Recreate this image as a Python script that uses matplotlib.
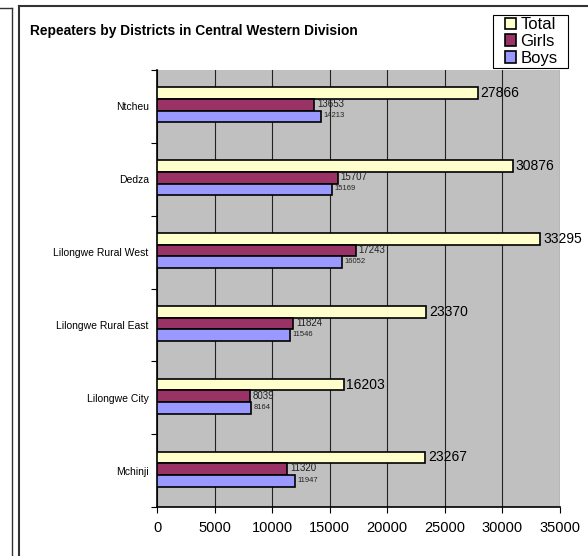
#!/usr/bin/env python3

import numpy as np
import matplotlib.pyplot as plt
from matplotlib.lines import Line2D
from matplotlib.patches import Rectangle

plt.rcParams['font.family'] = ['Liberation Sans', 'DejaVu Sans']

districts = ['Mchinji', 'Lilongwe City', 'Lilongwe Rural East',
             'Lilongwe Rural West', 'Dedza', 'Ntcheu']
total = [23267, 16203, 23370, 33295, 30876, 27866]
girls = [11320, 8039, 11824, 17243, 15707, 13653]
boys = [11947, 8164, 11546, 16052, 15169, 14213]
xticks = [0, 5000, 10000, 15000, 20000, 25000, 30000, 35000]

c_total = '#FFFFCC'
c_girls = '#993366'
c_boys = '#9999FF'

fig = plt.figure(figsize=(5.88, 5.56), dpi=100)
ax = fig.add_axes([157 / 588, 1 - 507 / 556, 403 / 588, 437 / 556])
ax.set_facecolor('#C0C0C0')

y = np.arange(len(districts))
h = 0.16
ax.barh(y + h + 0.02, total, height=h, color=c_total, edgecolor='black', linewidth=1.2, label='Total', zorder=3)
ax.barh(y + 0.02, girls, height=h, color=c_girls, edgecolor='black', linewidth=1.2, label='Girls', zorder=3)
ax.barh(y - h + 0.02, boys, height=h, color=c_boys, edgecolor='black', linewidth=1.2, label='Boys', zorder=3)

for i in range(len(districts)):
	ax.text(total[i] + 250, y[i] + h + 0.02, str(total[i]), fontsize=10, va='center', ha='left', zorder=4)
	ax.text(girls[i] + 250, y[i] + 0.03, str(girls[i]), fontsize=7, va='center', ha='left', zorder=4, color='#222222')
	ax.text(boys[i] + 250, y[i] - h + 0.03, str(boys[i]), fontsize=5.5, va='center', ha='left', zorder=4, color='#222222')

ax.set_xlim(0, 35000)
ax.set_ylim(-0.5, len(districts) - 0.5)
ax.set_xticks(xticks)
ax.set_xticklabels([str(v) for v in xticks], fontsize=10.5)
ax.xaxis.grid(True, color='#222222', linewidth=0.8, zorder=0)

ax.set_yticks(np.arange(len(districts) + 1) - 0.5)
ax.set_yticklabels([])
ax.set_yticks(y, minor=True)
ax.set_yticklabels(districts, minor=True, fontsize=7.5)
ax.tick_params(axis='y', which='minor', length=0, pad=6)
ax.tick_params(axis='y', which='major', length=4, width=0.8, direction='out')
ax.tick_params(axis='x', length=4, width=0.8, direction='out', pad=6)

for s in ['top', 'right']:
	ax.spines[s].set_visible(False)
ax.spines['left'].set_linewidth(1.2)
ax.spines['bottom'].set_linewidth(1.2)

fig.text(30 / 588, 1 - 31 / 556, 'Repeaters by Districts in Central Western Division',
	fontsize=9.9, fontweight='bold', va='center', ha='left')

# legend box drawn by hand, entries placed inside it
fig.add_artist(Rectangle((493 / 588, 1 - 68 / 556), 75 / 588, 53 / 556, transform=fig.transFigure,
	facecolor='white', edgecolor='black', linewidth=0.8))
handles, labels = ax.get_legend_handles_labels()
leg = fig.legend(handles, labels, loc='center', bbox_to_anchor=(531 / 588, 1 - 41.5 / 556),
	fontsize=12, frameon=False, handlelength=0.7, handleheight=0.7, handletextpad=0.25,
	labelspacing=0.1, borderpad=0, borderaxespad=0)

# chart frames
fig.add_artist(Line2D([18.5 / 588, 18.5 / 588], [0, 1 - 6 / 556], color='#333333', linewidth=1.5))
fig.add_artist(Line2D([18.5 / 588, 1], [1 - 6 / 556, 1 - 6 / 556], color='#333333', linewidth=1.5))
fig.add_artist(Line2D([11.5 / 588, 11.5 / 588], [0, 1 - 8 / 556], color='#333333', linewidth=1.0))
fig.add_artist(Line2D([0, 11.5 / 588], [1 - 8 / 556, 1 - 8 / 556], color='#333333', linewidth=1.0))

fig.savefig('out.png', dpi=100)
